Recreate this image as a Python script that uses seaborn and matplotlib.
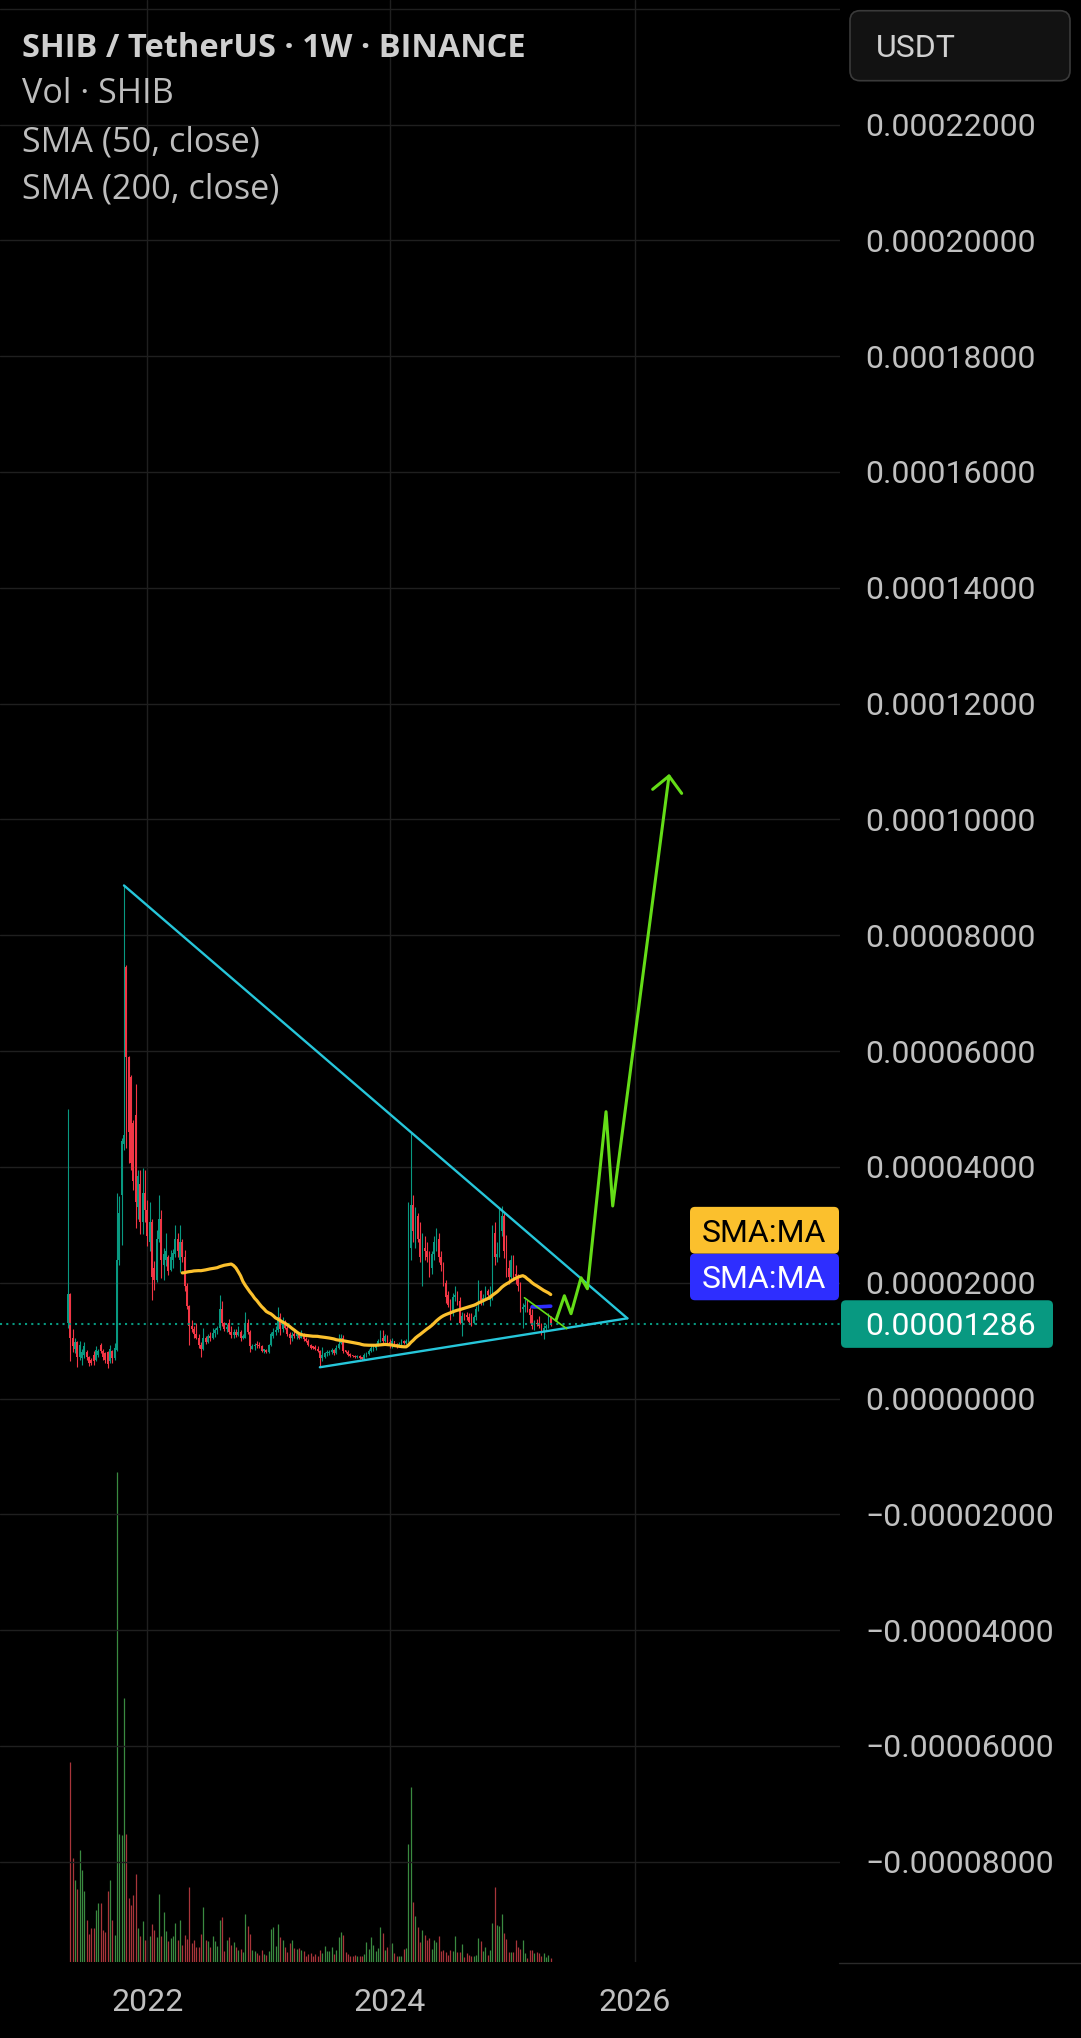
import numpy as np
import pandas as pd
import matplotlib
matplotlib.use("Agg")
import matplotlib.pyplot as plt
import matplotlib.dates as mdates
from matplotlib.patches import FancyBboxPatch
from matplotlib.lines import Line2D
from matplotlib.ticker import FuncFormatter
import seaborn as sns

# ---------------- data (prices in units of 1e-5 USDT, weekly candles) ----------------
first_week = "2021-05-10"

opens = [
    1.30, 1.80, 1.05, 0.86, 0.98, 0.72, 0.70, 0.76, 0.81, 0.72,
    0.66, 0.75, 0.66, 0.76, 0.92, 0.82, 0.78, 0.80, 0.64, 0.82,
    0.70, 0.84, 2.40, 3.52, 4.40, 7.45, 5.90, 5.55, 4.75, 4.90,
    3.30, 3.70, 3.05, 3.55, 3.25, 2.70, 3.05, 2.25, 2.05, 2.75,
    3.10, 2.30, 2.40, 2.45, 2.22, 2.40, 2.50, 2.75, 2.40, 2.70,
    2.45, 1.95, 1.60, 1.25, 1.20, 1.12, 1.05, 0.92, 0.85, 1.05,
    0.98, 1.08, 1.05, 1.14, 1.18, 1.22, 1.55, 1.30, 1.20, 1.30,
    1.15, 1.10, 1.15, 1.10, 1.15, 1.05, 1.05, 1.30, 1.15, 0.86,
    0.90, 0.95, 0.92, 0.90, 0.82, 0.84, 0.80, 0.92, 1.08, 1.15,
    1.18, 1.40, 1.20, 1.30, 1.22, 1.12, 1.05, 1.10, 1.08, 1.10,
    1.05, 1.12, 1.02, 1.00, 0.92, 0.88, 0.89, 0.86, 0.82, 0.70,
    0.72, 0.78, 0.78, 0.81, 0.83, 0.78, 0.88, 0.96, 1.05, 0.82,
    0.80, 0.76, 0.74, 0.73, 0.71, 0.73, 0.70, 0.68, 0.75, 0.77,
    0.82, 0.84, 0.88, 0.93, 0.99, 1.05, 1.00, 1.08, 0.98, 0.92,
    0.99, 0.94, 0.90, 0.95, 1.00, 0.96, 1.00, 2.60, 3.35, 2.90,
    3.15, 2.75, 2.45, 2.60, 2.55, 2.45, 2.25, 2.50, 2.70, 2.75,
    2.45, 2.30, 2.00, 1.78, 1.62, 1.48, 1.75, 1.78, 1.68, 1.30,
    1.42, 1.45, 1.40, 1.40, 1.30, 1.40, 1.55, 1.85, 1.70, 1.74,
    1.85, 1.70, 1.75, 2.85, 2.45, 2.50, 2.90, 3.15, 2.55, 2.25,
    2.10, 2.40, 2.15, 2.12, 1.95, 1.55, 1.58, 1.62, 1.55, 1.45,
    1.25, 1.30, 1.28, 1.25, 1.15, 1.22, 1.23, 1.40,
]
highs = [
    5.00, 1.83, 1.20, 1.04, 0.99, 1.00, 0.86, 0.97, 0.84, 0.74,
    0.70, 0.82, 0.90, 0.86, 0.96, 0.85, 0.80, 0.82, 0.92, 0.84,
    0.96, 3.55, 3.50, 4.50, 8.86, 7.49, 5.92, 5.59, 4.81, 5.44,
    3.95, 3.95, 3.98, 3.95, 3.43, 3.40, 3.10, 2.37, 2.91, 3.52,
    3.26, 2.60, 2.85, 2.48, 2.57, 2.58, 3.00, 2.86, 3.00, 2.75,
    2.57, 2.00, 1.62, 1.35, 1.25, 1.30, 1.12, 0.98, 1.22, 1.08,
    1.12, 1.15, 1.22, 1.22, 1.25, 1.78, 1.68, 1.32, 1.28, 1.38,
    1.25, 1.20, 1.20, 1.25, 1.18, 1.12, 1.50, 1.38, 1.18, 0.94,
    0.96, 1.00, 0.98, 0.93, 0.86, 0.86, 0.95, 1.15, 1.22, 1.25,
    1.58, 1.47, 1.40, 1.35, 1.25, 1.15, 1.15, 1.18, 1.12, 1.12,
    1.18, 1.14, 1.06, 1.02, 0.94, 0.90, 0.92, 0.90, 0.84, 0.89,
    0.80, 0.84, 0.84, 0.87, 0.85, 0.92, 1.12, 1.12, 1.09, 0.84,
    0.84, 0.78, 0.76, 0.75, 0.76, 0.76, 0.71, 0.78, 0.80, 0.85,
    0.95, 0.92, 0.96, 1.02, 1.18, 1.18, 1.12, 1.10, 1.02, 1.05,
    1.00, 0.96, 0.97, 1.02, 1.01, 1.03, 3.39, 4.58, 3.52, 3.30,
    3.20, 3.05, 2.85, 2.80, 2.70, 2.55, 2.55, 2.80, 2.95, 2.85,
    2.55, 2.35, 2.05, 1.85, 1.72, 1.82, 1.95, 1.85, 1.75, 1.50,
    1.48, 1.50, 1.48, 1.47, 1.45, 1.60, 2.05, 1.88, 1.80, 1.95,
    1.90, 1.95, 3.00, 3.05, 2.70, 3.30, 3.33, 3.20, 2.82, 2.40,
    2.48, 2.48, 2.30, 2.15, 2.02, 1.65, 1.72, 1.70, 1.58, 1.55,
    1.35, 1.38, 1.42, 1.30, 1.27, 1.28, 1.48, 1.42,
]
lows = [
    1.22, 0.64, 0.80, 0.78, 0.55, 0.67, 0.58, 0.70, 0.67, 0.56,
    0.58, 0.58, 0.64, 0.72, 0.78, 0.66, 0.62, 0.52, 0.62, 0.62,
    0.66, 0.82, 2.30, 2.65, 4.30, 4.32, 4.06, 3.95, 3.60, 2.94,
    3.10, 2.84, 2.84, 3.05, 2.63, 2.54, 1.70, 1.88, 2.02, 2.70,
    2.08, 2.05, 2.28, 2.13, 2.20, 2.25, 2.45, 2.45, 2.19, 2.36,
    1.85, 1.55, 0.92, 1.15, 1.05, 1.02, 0.88, 0.72, 0.83, 0.95,
    0.96, 1.00, 1.02, 1.06, 1.12, 1.18, 1.25, 1.16, 1.15, 1.12,
    1.05, 1.05, 1.07, 1.08, 1.00, 1.02, 1.04, 1.12, 0.80, 0.85,
    0.84, 0.88, 0.88, 0.80, 0.79, 0.78, 0.78, 0.90, 1.04, 1.10,
    1.15, 1.10, 1.15, 1.20, 1.08, 0.95, 1.00, 1.05, 1.02, 1.02,
    1.04, 1.00, 0.98, 0.90, 0.85, 0.85, 0.84, 0.80, 0.54, 0.64,
    0.70, 0.74, 0.76, 0.77, 0.76, 0.77, 0.86, 0.94, 0.78, 0.78,
    0.74, 0.72, 0.71, 0.70, 0.70, 0.68, 0.66, 0.66, 0.72, 0.75,
    0.80, 0.82, 0.84, 0.90, 0.97, 0.95, 0.98, 0.93, 0.88, 0.88,
    0.92, 0.88, 0.89, 0.93, 0.94, 0.94, 0.97, 2.40, 2.70, 2.60,
    2.70, 2.35, 1.95, 2.40, 2.35, 2.10, 2.15, 2.40, 2.55, 2.35,
    2.20, 1.95, 1.65, 1.58, 1.35, 1.42, 1.68, 1.62, 1.28, 1.08,
    1.35, 1.36, 1.28, 1.26, 1.28, 1.36, 1.52, 1.62, 1.62, 1.70,
    1.72, 1.60, 1.70, 2.30, 2.35, 2.45, 2.80, 2.42, 2.10, 1.98,
    2.05, 2.05, 1.98, 1.85, 1.50, 1.22, 1.50, 1.50, 1.30, 1.20,
    1.18, 1.25, 1.22, 1.10, 1.03, 1.18, 1.22, 1.26,
]
closes = [
    1.80, 1.05, 0.90, 0.98, 0.72, 0.92, 0.80, 0.90, 0.72, 0.62,
    0.62, 0.64, 0.84, 0.82, 0.82, 0.72, 0.66, 0.60, 0.86, 0.70,
    0.88, 2.40, 3.20, 4.45, 4.55, 5.90, 4.61, 4.06, 3.75, 3.40,
    3.85, 3.05, 3.55, 3.25, 2.80, 3.05, 2.10, 2.05, 2.75, 3.10,
    2.40, 2.50, 2.55, 2.20, 2.45, 2.52, 2.75, 2.55, 2.70, 2.45,
    1.95, 1.60, 1.25, 1.20, 1.12, 1.05, 0.92, 0.85, 1.05, 0.98,
    1.08, 1.05, 1.14, 1.18, 1.22, 1.55, 1.30, 1.20, 1.24, 1.15,
    1.10, 1.15, 1.10, 1.15, 1.05, 1.08, 1.30, 1.15, 0.90, 0.90,
    0.92, 0.92, 0.90, 0.82, 0.84, 0.80, 0.92, 1.12, 1.15, 1.18,
    1.40, 1.20, 1.30, 1.22, 1.12, 1.05, 1.10, 1.08, 1.10, 1.05,
    1.12, 1.02, 1.00, 0.92, 0.88, 0.87, 0.86, 0.82, 0.70, 0.76,
    0.78, 0.80, 0.81, 0.83, 0.78, 0.88, 0.95, 1.05, 0.82, 0.80,
    0.76, 0.74, 0.73, 0.71, 0.73, 0.70, 0.68, 0.75, 0.77, 0.82,
    0.88, 0.88, 0.93, 0.99, 1.05, 1.00, 1.08, 0.98, 0.93, 0.99,
    0.94, 0.90, 0.95, 1.00, 0.96, 1.00, 2.60, 3.35, 2.90, 3.15,
    2.75, 2.45, 2.60, 2.55, 2.45, 2.25, 2.50, 2.70, 2.75, 2.45,
    2.30, 2.00, 1.75, 1.62, 1.48, 1.75, 1.78, 1.68, 1.30, 1.42,
    1.38, 1.40, 1.32, 1.30, 1.40, 1.55, 1.85, 1.70, 1.74, 1.85,
    1.78, 1.78, 2.85, 2.45, 2.50, 2.90, 3.15, 2.55, 2.25, 2.10,
    2.40, 2.15, 2.12, 1.95, 1.55, 1.58, 1.62, 1.55, 1.45, 1.25,
    1.30, 1.28, 1.25, 1.15, 1.22, 1.23, 1.40, 1.286,
]
# relative weekly volume (largest week = 100)
volumes = [
    0.0, 40.7, 21.3, 16.7, 14.9, 22.8, 18.8, 14.5, 8.6, 5.7,
    6.9, 6.9, 10.6, 12.1, 12.1, 6.5, 6.2, 14.5, 16.8, 8.6,
    5.5, 100.0, 26.0, 25.8, 53.8, 26.0, 13.0, 11.7, 13.6, 18.0,
    6.9, 5.2, 8.4, 4.5, 4.4, 5.4, 7.8, 6.5, 5.0, 13.9,
    5.2, 10.2, 6.3, 4.2, 4.9, 5.2, 8.0, 4.5, 8.5, 3.4,
    5.5, 4.6, 15.2, 3.9, 4.5, 3.1, 3.1, 5.7, 11.2, 4.4,
    4.2, 3.1, 5.2, 4.3, 3.2, 8.6, 9.2, 2.2, 4.4, 5.0,
    3.5, 4.0, 3.0, 2.5, 2.7, 2.1, 9.8, 7.3, 5.7, 2.5,
    2.3, 1.9, 1.5, 2.5, 1.7, 1.5, 2.2, 6.7, 7.1, 3.2,
    7.7, 5.0, 4.4, 3.0, 2.1, 3.8, 4.5, 2.8, 2.7, 2.8,
    2.5, 2.3, 1.3, 1.7, 1.8, 1.3, 1.6, 1.3, 2.5, 1.8,
    3.2, 2.2, 2.3, 3.0, 1.7, 2.5, 5.0, 6.1, 5.5, 2.1,
    1.7, 1.2, 1.3, 1.5, 1.2, 1.2, 1.2, 1.7, 4.0, 2.7,
    5.0, 3.4, 2.2, 2.8, 7.1, 5.9, 2.5, 3.0, 3.6, 3.8,
    1.9, 1.3, 1.3, 1.3, 2.7, 2.8, 24.0, 35.7, 12.3, 9.4,
    7.1, 4.0, 6.5, 5.5, 4.5, 4.9, 2.7, 4.4, 4.0, 5.3,
    2.2, 2.5, 2.1, 1.5, 2.5, 2.3, 5.3, 2.1, 2.1, 3.6,
    1.1, 1.9, 1.5, 1.3, 1.3, 1.5, 4.9, 4.2, 2.2, 3.0,
    1.5, 2.5, 8.0, 15.2, 7.6, 7.3, 9.8, 5.9, 4.7, 2.1,
    2.1, 2.1, 4.4, 3.0, 2.7, 4.4, 1.8, 0.9, 2.5, 2.5,
    1.8, 2.1, 1.8, 1.3, 1.8, 1.1, 1.5, 0.9,
]

last_price = 1.286
last_price_text = "0.00001286"
sma_fast_len = 50
sma_slow_len = 200

# drawings (date, price in 1e-5)
upper_line_dates = ["2021-10-25", "2025-12-14"]
upper_line_prices = [8.86, 1.385]
lower_line_dates = ["2023-06-05", "2025-12-14"]
lower_line_prices = [0.54, 1.385]
wedge_dates = ["2025-02-08", "2025-06-15"]
wedge_prices = [1.74, 1.206]
proj_dates = ["2025-05-14", "2025-06-08", "2025-06-28", "2025-07-28",
              "2025-08-16", "2025-10-11", "2025-10-31", "2026-04-18"]
proj_prices = [1.356, 1.775, 1.465, 2.086, 1.896, 4.953, 3.325, 10.75]
arrow_dates = ["2026-02-28", "2026-04-18", "2026-05-26"]
arrow_prices = [10.52, 10.75, 10.45]

price_ticks = [-8, -6, -4, -2, 0, 2, 4, 6, 8, 10, 12, 14, 16, 18, 20, 22, 24]
year_tick_dates = ["2022-01-03", "2024-01-01", "2026-01-05"]
year_labels = ["2022", "2024", "2026"]
legend_lines = ["SHIB / TetherUS \u00b7 1W \u00b7 BINANCE", "Vol \u00b7 SHIB",
                "SMA (50, close)", "SMA (200, close)"]

# ---------------- styling ----------------
GREEN = "#089981"
RED = "#F23645"
VOL_GREEN = "#3a8a40"
VOL_RED = "#a8353a"
GRID = "#1f1f1f"
AXIS_TXT = "#c0c0c0"
SMA50_C = "#FBC02D"
SMA200_C = "#2E2EFF"
TREND_C = "#26C6DA"
PROJ_C = "#64DD17"

sns.set_theme(style="dark", rc={"axes.facecolor": "black", "figure.facecolor": "black",
                                "savefig.facecolor": "black"})
plt.rcParams["font.family"] = ["Roboto", "DejaVu Sans"]

W, H = 1081, 2038
fig = plt.figure(figsize=(W / 100, H / 100), dpi=100)
fig.patch.set_facecolor("black")
ax = fig.add_axes([0, (H - 1962) / H, 840 / W, 1962 / H])
axv = ax.twinx()
ax.set_zorder(axv.get_zorder() + 1)
ax.patch.set_visible(False)

dates = pd.date_range(first_week, periods=len(closes), freq="7D")
xd = mdates.date2num(dates)
o = np.array(opens); h = np.array(highs); l = np.array(lows); c = np.array(closes)
up = c >= o
col = np.where(up, GREEN, RED)

# volume
vcol = np.where(up, VOL_GREEN, VOL_RED)
axv.vlines(xd, 0, volumes, colors=vcol, lw=0.9)
axv.set_ylim(0, 400)
axv.axis("off")

# SMA lines
s = pd.Series(closes, index=dates)
df_fast = pd.DataFrame({"date": dates, "v": s.rolling(sma_fast_len).mean().values}).dropna()
df_slow = pd.DataFrame({"date": dates, "v": s.rolling(sma_slow_len).mean().values}).dropna()

# candles
ax.vlines(xd, l, h, colors=col, lw=0.8, zorder=2)
body_lo = np.minimum(o, c)
body_h = np.maximum(np.abs(c - o), 0.03)
ax.bar(xd, body_h, bottom=body_lo, width=5.0, color=col, linewidth=0, zorder=2)

sns.lineplot(data=df_fast, x="date", y="v", ax=ax, color=SMA50_C, lw=2.3, zorder=4,
             estimator=None, legend=False)
sns.lineplot(data=df_slow, x="date", y="v", ax=ax, color=SMA200_C, lw=2.6, zorder=4,
             estimator=None, legend=False)

# current price dotted line
ax.axhline(last_price, color=GREEN, lw=1.5, ls=(0, (1, 2)), zorder=3)

# trend lines and projection
def draw(dts, prices, color, lw, z):
    d = pd.DataFrame({"date": pd.to_datetime(dts), "p": prices})
    sns.lineplot(data=d, x="date", y="p", ax=ax, color=color, lw=lw, zorder=z,
                 estimator=None, sort=False, legend=False)

draw(upper_line_dates, upper_line_prices, TREND_C, 1.7, 5)
draw(lower_line_dates, lower_line_prices, TREND_C, 1.7, 5)
draw(wedge_dates, wedge_prices, PROJ_C, 1.2, 6)
draw(proj_dates, proj_prices, PROJ_C, 2.2, 6)
draw(arrow_dates, arrow_prices, PROJ_C, 2.2, 6)

x0 = mdates.date2num(pd.Timestamp(first_week))
ax.set_xlim(x0 - 204.1, x0 + 2317.3)
ax.set_ylim(-9.73, 24.15)
ax.set_xlabel("")
ax.set_ylabel("")

# axes / ticks
ax.set_yticks(price_ticks)
def fmt(v, pos):
    if v > 23:
        return ""
    txt = f"{abs(v) * 1e-5:.8f}"
    return "\u2212" + txt if v < 0 else txt
ax.yaxis.set_major_formatter(FuncFormatter(fmt))
ax.yaxis.tick_right()
ax.tick_params(axis="y", length=0, pad=18, labelsize=23, labelcolor=AXIS_TXT)
ax.set_xticks(mdates.date2num(pd.to_datetime(year_tick_dates)))
ax.set_xticklabels(year_labels)
ax.tick_params(axis="x", length=0, pad=18.5, labelsize=23, labelcolor=AXIS_TXT)
ax.grid(True, color=GRID, lw=1.0)
ax.set_axisbelow(True)
for sp in ax.spines.values():
    sp.set_visible(False)

fig.canvas.draw()

def px_box(x_px, y_bot_px, w_px, h_px, fc, ec="none", lw=0, r=5, z=10):
    p = FancyBboxPatch((x_px / 100, y_bot_px / 100), w_px / 100, h_px / 100,
                       boxstyle=f"round,pad=0,rounding_size={r / 100}",
                       transform=fig.dpi_scale_trans, fc=fc, ec=ec, lw=lw, zorder=z)
    fig.add_artist(p)

def px_text(x_px, y_base_px, s, color, size=23, family=None, weight="normal", z=11):
    kw = {}
    if family:
        kw["family"] = family
    fig.text(x_px / 100, y_base_px / 100, s, transform=fig.dpi_scale_trans,
             color=color, fontsize=size, va="baseline", ha="left",
             fontweight=weight, zorder=z, **kw)

# last price label anchored at the data price
yc = ax.transData.transform((x0, last_price))[1]
px_box(841, yc - 23.8, 212, 47.6, GREEN, r=5)
px_text(865, yc - 11.3, last_price_text, "white")
# SMA labels stacked above price label
px_box(690, yc + 23.8, 149, 46.7, SMA200_C, r=5)
px_text(702, yc + 23.8 + 23.3 - 11.3, "SMA:MA", "white")
px_box(690, yc + 23.8 + 46.7, 149, 46.7, SMA50_C, r=5)
px_text(702, yc + 23.8 + 70 - 11.3, "SMA:MA", "black")

# USDT box
px_box(850, H - 80.7, 220, 70, "#121212", ec="#3a3a3a", lw=1.2, r=10)
px_text(876, H - 56.9, "USDT", "#d0d0d0")

# legend texts
baselines = [56.7, 103.3, 151.5, 198.3]
for i, (txt, yb) in enumerate(zip(legend_lines, baselines)):
    px_text(22.4, H - yb, txt, "#cfcfcf" if i == 0 else "#bdbdbd",
            size=23.5 if i == 0 else 24.6,
            family=["Open Sans", "DejaVu Sans"], weight="bold" if i == 0 else "normal")

# bottom border of price scale
fig.add_artist(Line2D([8.39, 10.81], [(H - 1963) / 100] * 2, transform=fig.dpi_scale_trans,
                      color="#2a2a2a", lw=1.0))

fig.savefig("out.png", dpi=100, facecolor="black")
